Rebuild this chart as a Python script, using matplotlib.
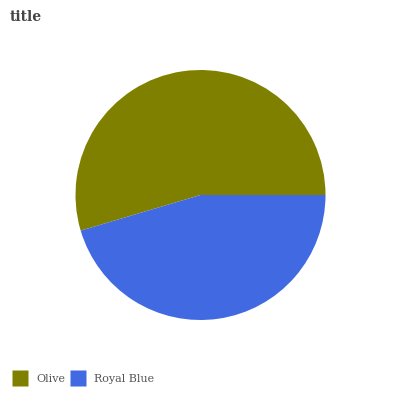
import matplotlib
matplotlib.use("Agg")
from matplotlib import pyplot as plt
from matplotlib.lines import Line2D

labels = ["Olive", "Royal Blue"]
values = [54.6, 45.4]
colors = ["#808000", "#4169E1"]

fig = plt.figure(figsize=(4, 4), dpi=100)
ax = fig.add_axes([75.5 / 400, 80 / 400, 250 / 400, 250 / 400])
ax.pie(values, colors=colors, startangle=0, counterclock=True,
       wedgeprops=dict(linewidth=0))
ax.set_xlim(-1, 1)
ax.set_ylim(-1, 1)
ax.set_aspect("equal")
ax.axis("off")

fig.text(10 / 400, 1 - 17 / 400, "title", family="DejaVu Serif",
         fontweight="bold", color="#444444", fontsize=10, va="center")

handles = [Line2D([], [], marker="s", linestyle="none", markersize=12,
                  markerfacecolor=c, markeredgecolor="none") for c in colors]
fig.legend(handles, labels, loc="center left", bbox_to_anchor=(0.0, 1 - 379 / 400),
           ncol=2, frameon=False, prop=dict(family="DejaVu Serif", size=8),
           labelcolor="#555555", handlelength=1.45, borderpad=0.4,
           handletextpad=0.72, columnspacing=0.45, borderaxespad=0.7)

fig.savefig("out.png", dpi=100)
